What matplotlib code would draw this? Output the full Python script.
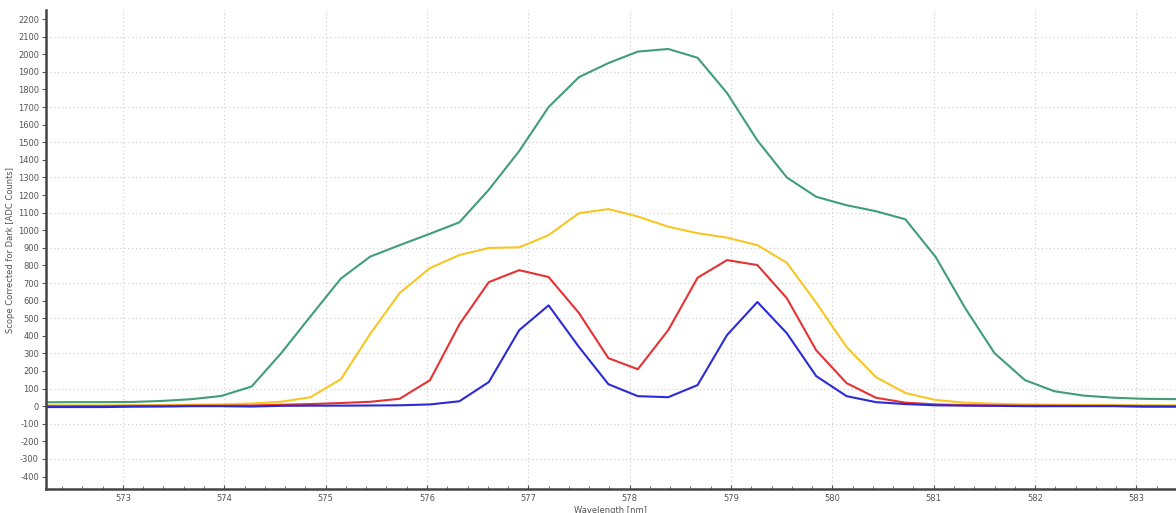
import numpy as np
import matplotlib.pyplot as plt
from matplotlib.ticker import MultipleLocator

plt.rcParams['axes.unicode_minus'] = False

# wavelength samples [nm]
wavelength = [572.21, 572.51, 572.80, 573.09, 573.39, 573.68, 573.97, 574.27, 574.56, 574.85,
              575.15, 575.44, 575.73, 576.03, 576.32, 576.61, 576.91, 577.20, 577.50, 577.79,
              578.08, 578.38, 578.67, 578.96, 579.26, 579.55, 579.84, 580.14, 580.43, 580.72,
              581.02, 581.31, 581.60, 581.90, 582.19, 582.48, 582.78, 583.07, 583.36, 583.66]

green = [22, 23, 23, 24, 30, 40, 58, 112, 300, 510,
         725, 850, 915, 980, 1045, 1230, 1450, 1700, 1870, 1950,
         2015, 2030, 1980, 1780, 1510, 1300, 1190, 1142, 1108, 1062,
         847, 557, 301, 148, 85, 60, 48, 42, 40, 40]

yellow = [5, 5, 5, 5, 6, 8, 10, 15, 25, 51,
          153, 411, 643, 785, 859, 899, 903, 972, 1097, 1120,
          1078, 1020, 983, 958, 915, 815, 588, 336, 165, 75,
          35, 20, 14, 10, 8, 7, 6, 5, 5, 5]

red = [0, 0, 0, 2, 2, 3, 3, 4, 8, 12,
       18, 25, 42, 148, 465, 705, 773, 734, 529, 273,
       210, 432, 730, 830, 802, 614, 318, 131, 48, 20,
       10, 6, 4, 3, 3, 2, 2, 1, 0, 0]

blue = [-5, -5, -5, -3, -2, 0, 0, -2, 2, 3,
        3, 4, 5, 10, 28, 137, 432, 573, 336, 125,
        57, 51, 120, 404, 592, 415, 171, 57, 23, 12,
        5, 3, 2, 0, 0, 0, 0, -3, -3, -3]

fig = plt.figure(figsize=(11.76, 5.13), dpi=100)
ax = fig.add_axes([0.039, 0.047, 0.961, 0.933])

ax.plot(wavelength, green, color='#3f9e78', lw=1.5)
ax.plot(wavelength, yellow, color='#f7c623', lw=1.5)
ax.plot(wavelength, red, color='#e63232', lw=1.5)
ax.plot(wavelength, blue, color='#2b2bd6', lw=1.5)

ax.set_xlim(572.24, 583.39)
ax.set_ylim(-470, 2250)

ax.xaxis.set_major_locator(MultipleLocator(1))
ax.xaxis.set_minor_locator(MultipleLocator(0.2))
ax.yaxis.set_major_locator(MultipleLocator(100))
ax.tick_params(axis='x', which='major', direction='in', length=3, labelsize=6, colors='#555555', pad=4)
ax.tick_params(axis='x', which='minor', direction='in', length=2, colors='#555555')
ax.tick_params(axis='y', direction='out', length=3, labelsize=6, colors='#555555', pad=2)

# dotted grid: every nm, every odd hundred
for xv in range(573, 584):
    ax.axvline(xv, color='#cccccc', lw=0.8, ls=(0, (1, 2.5)), zorder=0)
for yv in range(-300, 2200, 200):
    ax.axhline(yv, color='#cccccc', lw=0.8, ls=(0, (1, 2.5)), zorder=0)

for s in ['top', 'right']:
    ax.spines[s].set_visible(False)
for s in ['left', 'bottom']:
    ax.spines[s].set_color('#444444')
    ax.spines[s].set_linewidth(1.8)

ax.set_xlabel('Wavelength [nm]', fontsize=6, color='#555555', labelpad=2)
ax.set_ylabel('Scope Corrected for Dark [ADC Counts]', fontsize=6, color='#555555', labelpad=2)

fig.savefig('out.png', dpi=100)
